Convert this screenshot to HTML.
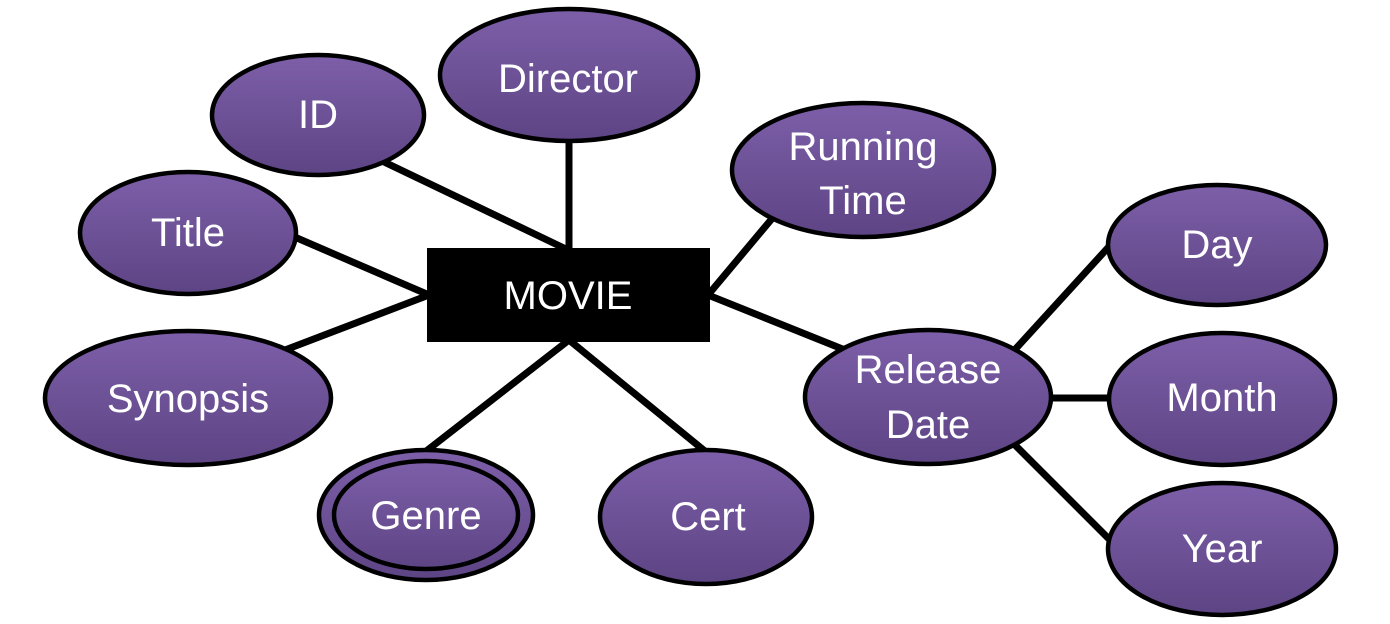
<!DOCTYPE html>
<html><head><meta charset="utf-8"><style>
html,body{margin:0;padding:0;background:#fff;}
svg{display:block;}
text{font-family:"Liberation Sans",sans-serif;fill:#fff;font-size:40px;text-anchor:middle;dominant-baseline:central;}
</style></head><body>
<svg width="1390" height="624" viewBox="0 0 1390 624" xmlns="http://www.w3.org/2000/svg">
<defs>
<linearGradient id="g" x1="0" y1="0" x2="0" y2="1">
<stop offset="0" stop-color="#7d5fa9"/><stop offset="1" stop-color="#5d4484"/>
</linearGradient>
</defs>
<g stroke="#000" stroke-width="7" stroke-linecap="round">
<line x1="380" y1="160" x2="568" y2="250"/>
<line x1="569" y1="140" x2="569" y2="250"/>
<line x1="775" y1="215" x2="708" y2="295"/>
<line x1="290" y1="235" x2="429" y2="295"/>
<line x1="285" y1="350" x2="429" y2="295"/>
<line x1="425" y1="452" x2="569" y2="340"/>
<line x1="706" y1="452" x2="569" y2="340"/>
<line x1="845" y1="350" x2="708" y2="295"/>
<line x1="1010" y1="355" x2="1115" y2="240"/>
<line x1="1050" y1="398" x2="1112" y2="398"/>
<line x1="1010" y1="440" x2="1115" y2="545"/>
</g>
<g fill="url(#g)" stroke="#000" stroke-width="4.5">
<ellipse cx="318" cy="115" rx="106" ry="60"/>
<ellipse cx="569" cy="75" rx="129" ry="66"/>
<ellipse cx="863" cy="170" rx="131" ry="67"/>
<ellipse cx="188" cy="233" rx="108" ry="61"/>
<ellipse cx="188" cy="398" rx="143" ry="67"/>
<ellipse cx="426" cy="515" rx="107" ry="65"/>
<ellipse cx="426" cy="515" rx="92" ry="54"/>
<ellipse cx="706" cy="517" rx="106" ry="67"/>
<ellipse cx="928" cy="397" rx="123" ry="67"/>
<ellipse cx="1217" cy="245" rx="109" ry="60"/>
<ellipse cx="1222" cy="399" rx="113" ry="66"/>
<ellipse cx="1222" cy="549" rx="114" ry="66"/>
</g>
<rect x="427" y="248" width="283" height="94" fill="#000"/>
<text x="568" y="296">MOVIE</text>
<text x="318" y="115">ID</text>
<text x="568" y="79">Director</text>
<text x="863" y="147">Running</text>
<text x="863" y="201">Time</text>
<text x="188" y="233">Title</text>
<text x="188" y="399">Synopsis</text>
<text x="426" y="516">Genre</text>
<text x="708" y="517">Cert</text>
<text x="928" y="370">Release</text>
<text x="928" y="425">Date</text>
<text x="1217" y="245">Day</text>
<text x="1222" y="398">Month</text>
<text x="1222" y="549">Year</text>
</svg>
</body></html>
